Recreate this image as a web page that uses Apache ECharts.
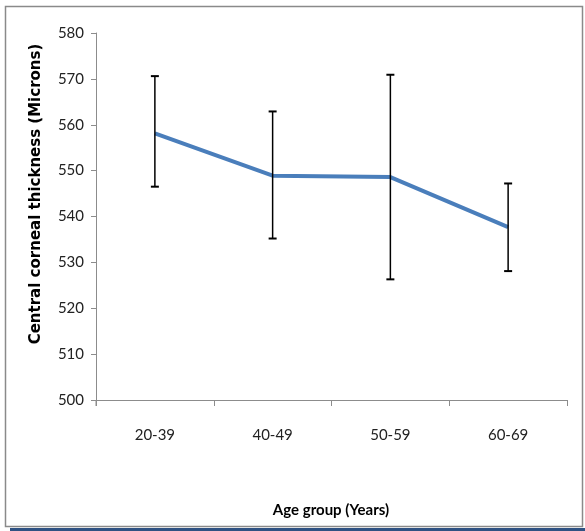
<!DOCTYPE html>
<html>
<head>
<meta charset="utf-8">
<script src="https://cdn.jsdelivr.net/npm/echarts@6/dist/echarts.min.js"></script>
<style>
html,body{margin:0;padding:0;background:#fff;}
#main{width:585px;height:531px;}
</style>
</head>
<body>
<div id="main"></div>
<script>
const categories = ['20-39', '40-49', '50-59', '60-69'];
const meanValues = [558.1, 548.9, 548.6, 537.7];
const errLow = [546.5, 535.2, 526.3, 528.1];
const errHigh = [570.6, 562.9, 570.9, 547.2];
const yTitle = 'Central corneal thickness (Microns)';
const xTitle = 'Age group (Years)';

const chart = echarts.init(document.getElementById('main'), null, {renderer: 'canvas'});
const errData = categories.map((c, i) => [i, errLow[i], errHigh[i]]);

chart.setOption({
  animation: false,
  backgroundColor: '#fff',
  grid: {left: 96, right: 18, top: 33, bottom: 131},
  xAxis: {
    type: 'category',
    data: categories,
    boundaryGap: true,
    axisLine: {lineStyle: {color: '#8c8c8c', width: 1}},
    axisTick: {show: true, alignWithLabel: false, length: 6, lineStyle: {color: '#8c8c8c'}},
    axisLabel: {color: '#222', fontFamily: 'Lato', fontSize: 15, margin: 28},
    splitLine: {show: false}
  },
  yAxis: {
    type: 'value',
    min: 500, max: 580, interval: 10,
    axisLine: {show: true, lineStyle: {color: '#8c8c8c', width: 1}},
    axisTick: {show: true, length: 5, lineStyle: {color: '#8c8c8c'}},
    axisLabel: {color: '#222', fontFamily: 'Lato', fontSize: 15, margin: 12},
    splitLine: {show: false}
  },
  graphic: [
    {type: 'rect', shape: {x: 5.5, y: 6.5, width: 577, height: 520}, style: {fill: null, stroke: '#8a8a8a', lineWidth: 1.5}, silent: true},
    {type: 'rect', shape: {x: 10, y: 528, width: 575, height: 3}, style: {fill: '#2f5283'}, silent: true},
    {type: 'line', shape: {x1: 96, y1: 400, x2: 96, y2: 406}, style: {stroke: '#8c8c8c', lineWidth: 1}, silent: true},
    {type: 'text', x: 36, y: 194, rotation: Math.PI / 2,
      style: {text: yTitle, fill: '#000', font: 'bold 15px "DejaVu Sans"', align: 'center', verticalAlign: 'middle'}},
    {type: 'text', x: 331, y: 510,
      style: {text: xTitle, fill: '#000', font: 'bold 15px Lato', align: 'center', verticalAlign: 'middle'}}
  ],
  series: [
    {
      type: 'line',
      data: meanValues,
      symbol: 'none',
      lineStyle: {color: '#4a7ebb', width: 4},
      z: 2
    },
    {
      type: 'custom',
      data: errData,
      z: 3,
      renderItem: function (params, api) {
        const x = api.value(0);
        const lo = api.coord([x, api.value(1)]);
        const hi = api.coord([x, api.value(2)]);
        const cap = 4;
        const st = {stroke: '#000', lineWidth: 1.5};
        return {
          type: 'group',
          children: [
            {type: 'line', shape: {x1: hi[0], y1: hi[1], x2: lo[0], y2: lo[1]}, style: st},
            {type: 'line', shape: {x1: hi[0] - cap, y1: hi[1], x2: hi[0] + cap, y2: hi[1]}, style: {stroke: '#000', lineWidth: 2}},
            {type: 'line', shape: {x1: lo[0] - cap, y1: lo[1], x2: lo[0] + cap, y2: lo[1]}, style: {stroke: '#000', lineWidth: 2}}
          ]
        };
      }
    }
  ]
});
</script>
</body>
</html>
